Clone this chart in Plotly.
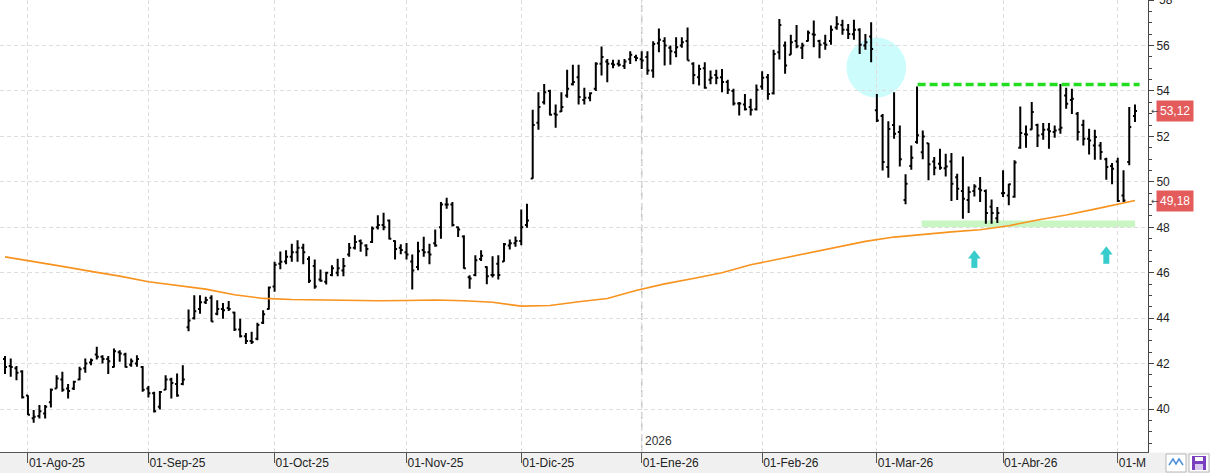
import pandas as pd
import plotly.graph_objects as go

# ---------------- data ----------------
holidays = ["2025-12-25", "2025-12-26", "2026-01-01", "2026-04-03", "2026-04-06", "2026-05-01"]
dates = [d.strftime("%Y-%m-%d") for d in pd.bdate_range("2025-07-28", "2026-05-07")
         if d.strftime("%Y-%m-%d") not in holidays]

open_ = [42.20, 41.90, 41.80, 41.65, 40.60, 39.60, 39.70, 39.80, 40.30, 40.90,
         41.30, 40.90, 40.90, 41.30, 41.80, 42.05, 42.40, 42.30, 42.20, 41.85,
         42.50, 42.40, 41.95, 42.00, 41.85, 40.90, 40.70, 40.10, 40.85, 41.30,
         41.10, 41.10, 43.60, 44.00, 44.40, 44.70, 44.90, 44.20, 44.40, 44.45,
         44.25, 43.50, 43.20, 43.00, 43.10, 43.80, 44.40, 45.40, 46.40, 46.50,
         46.70, 46.90, 47.10, 46.60, 46.30, 45.70, 45.60, 45.90, 46.00, 46.10,
         46.80, 47.10, 47.40, 47.20, 47.35, 48.00, 48.10, 48.30, 47.40, 47.10,
         46.90, 46.50, 46.25, 47.00, 46.90, 47.30, 48.00, 49.00, 49.00, 48.00,
         47.60, 45.80, 45.90, 46.60, 46.25, 45.90, 46.40, 46.50, 47.20, 47.30,
         47.40, 48.10, 50.15, 52.60, 53.50, 54.00, 53.00, 53.10, 53.80, 54.30,
         54.60, 53.60, 53.70, 54.10, 55.20, 55.30, 55.20, 55.20, 55.10, 55.40,
         55.50, 55.40, 55.50, 54.90, 56.10, 56.20, 55.90, 55.70, 56.00, 56.20,
         55.20, 54.60, 55.00, 54.50, 54.70, 54.60, 54.40, 54.00, 53.45, 53.40,
         53.30, 53.20, 54.20, 54.60, 53.90, 55.70, 56.00, 55.60, 56.20, 55.90,
         56.20, 56.50, 56.20, 56.10, 56.20, 56.80, 56.90, 56.70, 56.50, 56.70,
         56.00, 56.40, 53.15, 52.90, 50.65, 52.50, 52.20, 49.20, 50.70, 51.75,
         51.30, 51.70, 50.90, 50.80, 50.60, 50.90, 50.20, 49.60, 49.20, 49.60,
         49.70, 49.60, 48.90, 48.40, 49.50, 49.40, 49.35, 51.50, 52.10, 52.30,
         52.50, 52.10, 52.30, 52.20, 52.30, 53.80, 53.60, 53.00, 52.50, 51.90,
         51.60, 51.60, 51.00, 50.70, 50.90, 49.40, 50.87, 52.90]

high = [42.33, 42.23, 41.89, 41.71, 40.61, 39.96, 40.18, 40.18, 40.90, 41.49,
        41.64, 41.10, 41.25, 41.86, 42.23, 42.23, 42.74, 42.37, 42.33, 42.67,
        42.59, 42.48, 42.23, 42.37, 41.89, 41.01, 40.76, 40.79, 41.49, 41.38,
        41.57, 41.93, 44.38, 45.01, 45.01, 44.94, 45.01, 44.79, 44.67, 44.76,
        44.28, 43.98, 43.35, 43.40, 43.80, 44.35, 45.40, 46.48, 46.94, 46.99,
        47.28, 47.43, 47.28, 46.73, 46.58, 46.14, 46.04, 46.33, 46.62, 46.65,
        47.31, 47.65, 47.46, 47.25, 48.04, 48.53, 48.64, 48.34, 47.43, 47.25,
        47.31, 46.80, 47.36, 47.58, 47.28, 47.90, 49.11, 49.30, 49.11, 48.04,
        47.65, 45.89, 46.77, 46.99, 46.29, 46.73, 46.77, 47.31, 47.46, 47.60,
        48.78, 49.04, 53.17, 53.95, 54.31, 54.05, 53.40, 53.95, 54.93, 55.16,
        55.16, 54.14, 53.95, 55.27, 55.96, 55.41, 55.37, 55.37, 55.41, 55.75,
        55.60, 55.75, 55.75, 56.19, 56.75, 56.37, 56.00, 56.37, 56.37, 56.80,
        55.27, 55.16, 55.27, 54.90, 54.93, 54.97, 54.49, 54.10, 53.51, 53.87,
        53.66, 54.29, 54.87, 54.75, 55.81, 57.17, 56.18, 56.47, 56.91, 56.12,
        56.66, 57.10, 56.26, 56.47, 56.88, 57.29, 57.14, 56.95, 57.14, 56.76,
        56.51, 57.03, 53.87, 52.99, 52.67, 53.95, 52.48, 50.33, 51.60, 54.20,
        52.26, 51.71, 51.09, 51.46, 51.24, 51.27, 50.36, 51.12, 49.80, 49.89,
        50.21, 49.66, 49.22, 48.89, 50.51, 49.92, 50.95, 53.32, 52.48, 53.51,
        52.56, 52.59, 52.59, 52.48, 54.31, 54.14, 54.10, 53.07, 52.73, 52.34,
        52.29, 51.75, 51.06, 50.83, 51.06, 50.51, 53.29, 53.41]

low = [41.54, 41.42, 41.27, 40.47, 39.74, 39.40, 39.59, 39.59, 40.07, 40.90,
       40.76, 40.47, 40.84, 41.27, 41.60, 41.93, 42.18, 42.01, 41.54, 41.83,
       42.08, 41.83, 41.86, 41.86, 40.76, 40.51, 39.85, 39.98, 40.84, 40.47,
       40.54, 41.05, 43.43, 43.94, 44.20, 44.62, 43.84, 44.13, 43.98, 44.32,
       43.44, 43.15, 42.86, 42.86, 43.03, 43.74, 44.38, 45.16, 46.15, 46.37,
       46.48, 46.48, 46.37, 45.55, 45.30, 45.60, 45.48, 45.85, 45.85, 45.85,
       46.70, 47.02, 46.92, 46.73, 47.31, 47.90, 47.87, 47.46, 46.58, 46.81,
       46.58, 45.26, 46.11, 46.70, 46.37, 47.14, 47.50, 48.82, 48.04, 47.57,
       46.18, 45.30, 45.85, 46.52, 45.49, 45.79, 45.70, 46.48, 47.02, 47.14,
       47.21, 47.98, 50.14, 52.29, 53.40, 52.92, 52.38, 53.07, 53.70, 54.24,
       53.40, 53.40, 53.55, 54.00, 54.68, 54.39, 55.00, 55.08, 54.97, 55.19,
       55.31, 54.97, 54.72, 54.58, 55.70, 55.12, 55.16, 55.49, 55.90, 55.34,
       54.30, 54.24, 54.10, 54.30, 54.30, 53.95, 53.87, 53.36, 52.92, 53.14,
       52.92, 53.14, 54.05, 53.61, 53.85, 55.39, 54.76, 55.59, 55.88, 55.41,
       56.18, 55.93, 55.44, 55.82, 56.03, 56.70, 56.47, 56.29, 56.26, 55.63,
       55.82, 55.27, 52.63, 50.50, 50.18, 51.90, 50.68, 49.01, 50.53, 51.68,
       51.00, 50.07, 50.29, 50.53, 50.24, 49.16, 49.20, 48.38, 48.63, 49.36,
       49.11, 48.16, 48.16, 48.19, 49.33, 48.97, 49.30, 51.46, 51.50, 52.29,
       51.53, 51.85, 51.46, 51.94, 52.12, 53.22, 52.99, 51.82, 51.60, 51.21,
       50.97, 50.97, 50.09, 49.89, 49.11, 49.11, 50.73, 52.63]

close = [41.85, 41.85, 41.60, 40.52, 39.75, 39.66, 39.90, 40.10, 40.85, 41.35,
         40.85, 40.80, 41.20, 41.75, 42.00, 42.15, 42.30, 42.20, 42.10, 42.55,
         42.45, 41.85, 42.10, 42.20, 40.85, 40.70, 39.90, 40.75, 41.30, 41.15,
         40.60, 41.30, 43.90, 44.30, 44.70, 44.80, 43.85, 44.40, 44.35, 44.40,
         43.50, 43.20, 43.00, 42.95, 43.70, 44.17, 45.35, 46.35, 46.48, 46.70,
         46.90, 47.10, 46.90, 45.65, 45.40, 45.65, 46.00, 46.20, 46.20, 46.30,
         47.10, 47.35, 47.30, 47.05, 47.95, 48.10, 48.00, 47.50, 47.05, 47.00,
         46.80, 46.10, 46.95, 46.90, 46.80, 47.20, 49.00, 49.00, 48.10, 47.90,
         46.20, 45.75, 46.55, 46.75, 45.85, 45.90, 45.90, 47.25, 47.30, 47.40,
         48.00, 48.30, 52.50, 53.30, 53.95, 52.95, 52.95, 53.30, 54.10, 54.40,
         53.73, 53.70, 53.90, 55.20, 55.50, 55.20, 55.15, 55.15, 55.30, 55.60,
         55.45, 55.34, 54.90, 56.07, 56.25, 56.00, 55.75, 55.93, 56.14, 55.34,
         54.70, 54.97, 54.14, 54.58, 54.58, 54.40, 54.05, 53.45, 53.45, 53.20,
         53.17, 54.05, 54.58, 53.87, 55.63, 56.90, 55.12, 56.15, 55.97, 56.00,
         56.56, 56.47, 56.03, 56.03, 56.70, 56.95, 56.70, 56.51, 56.70, 56.03,
         56.15, 55.85, 52.70, 50.87, 52.33, 52.12, 51.00, 49.92, 51.06, 52.05,
         52.00, 50.77, 50.62, 50.62, 50.68, 49.92, 49.70, 49.26, 49.55, 49.80,
         49.63, 48.63, 48.63, 48.63, 49.51, 49.89, 50.85, 52.15, 52.09, 53.07,
         52.04, 52.29, 52.23, 52.26, 52.38, 53.44, 53.66, 52.19, 51.90, 51.82,
         51.97, 51.31, 50.65, 50.58, 49.16, 49.18, 52.41, 53.12]

# moving average read at these bar positions
ma_index = [0, 5, 10, 15, 20, 25, 30, 35, 40, 45, 50, 55, 60, 65, 70, 75, 80, 85, 90, 95,
            100, 105, 110, 115, 120, 125, 130, 135, 140, 145, 150, 155, 160, 165, 170, 175,
            180, 185, 190, 195, 197]
ma_values = [46.70, 46.50, 46.28, 46.06, 45.85, 45.60, 45.45, 45.28, 45.03, 44.87,
             44.82, 44.80, 44.79, 44.77, 44.78, 44.80, 44.77, 44.70, 44.53, 44.56,
             44.72, 44.87, 45.22, 45.51, 45.75, 46.00, 46.35, 46.60, 46.87, 47.13,
             47.38, 47.57, 47.70, 47.80, 47.89, 48.07, 48.32, 48.54, 48.80, 49.07, 49.18]

month_abbr = {1: "Ene", 2: "Feb", 3: "Mar", 4: "Abr", 5: "M", 8: "Ago", 9: "Sep",
              10: "Oct", 11: "Nov", 12: "Dic"}

# annotation levels
resistance_level = 54.29
resistance_span = (159.1, 197.8)
support_band = (48.00, 48.30)
support_span = (159.8, 197.0)
highlight = dict(center=151.9, price=55.03, rx=5.2, ry=1.32)
arrow_bars = [169, 192]
arrow_head_price = [46.75, 46.92]
arrow_stem_price = [46.46, 46.64]
y_top_label = 58

assert len(dates) == len(open_) == len(high) == len(low) == len(close)

# ---------------- ticks ----------------
tick_vals, tick_text = [], []
seen = set()
for d in dates:
    ym = d[:7]
    if ym not in seen:
        seen.add(ym)
        y, m = int(d[:4]), int(d[5:7])
        if (y, m) == (2025, 7):
            continue
        lab = "01-%s" % month_abbr[m] if m == 5 else "01-%s-%s" % (month_abbr[m], str(y)[2:])
        tick_vals.append(d)
        tick_text.append(lab)

W, H = 1210, 473
PL, PR = 0, 1148          # plot area pixel edges (x)
PT, PB = 0, 452           # plot area pixel edges (y)
n = len(dates)
px_per_bar = 5.736
x0_range = -5.0 / px_per_bar
x1_range = x0_range + (PR - PL) / px_per_bar

fig = go.Figure()

fig.add_trace(go.Ohlc(
    x=dates, open=open_, high=high, low=low, close=close,
    increasing=dict(line=dict(color="#000000", width=2)),
    decreasing=dict(line=dict(color="#000000", width=2)),
    tickwidth=0.35, hoverinfo="skip", showlegend=False))

fig.add_trace(go.Scatter(
    x=[dates[i] for i in ma_index], y=ma_values, mode="lines",
    line=dict(color="#f7931e", width=1.6), hoverinfo="skip", showlegend=False))

# cyan up arrows (stem + head)
fig.add_trace(go.Scatter(
    x=[dates[i] for i in arrow_bars], y=arrow_stem_price, mode="markers",
    marker=dict(symbol="line-ns", size=8, line=dict(color="#38cccc", width=6)),
    hoverinfo="skip", showlegend=False))
fig.add_trace(go.Scatter(
    x=[dates[i] for i in arrow_bars], y=arrow_head_price, mode="markers",
    marker=dict(symbol="triangle-up", size=11, color="#38cccc", line=dict(width=0)),
    hoverinfo="skip", showlegend=False))

def px2paper_x(px):
    return (px - PL) / (PR - PL)

def px2paper_y(py):
    return (PB - py) / (PB - PT)

shapes = []
# bottom grey band
shapes.append(dict(type="rect", xref="paper", yref="paper", x0=px2paper_x(0), x1=px2paper_x(W),
                   y0=px2paper_y(PB + 0.5), y1=px2paper_y(H), fillcolor="#f0f0f0",
                   line=dict(width=0), layer="below"))
# highlight circle
shapes.append(dict(type="circle", xref="x", yref="y",
                   x0=highlight["center"] - highlight["rx"], x1=highlight["center"] + highlight["rx"],
                   y0=highlight["price"] - highlight["ry"], y1=highlight["price"] + highlight["ry"],
                   fillcolor="#ccfcfc", line=dict(width=0), layer="below"))
# support band
shapes.append(dict(type="rect", xref="x", yref="y", x0=support_span[0], x1=support_span[1],
                   y0=support_band[0], y1=support_band[1], fillcolor="#c9f7c4",
                   line=dict(width=0), layer="below"))
# resistance dashed line
shapes.append(dict(type="line", xref="x", yref="y", x0=resistance_span[0], x1=resistance_span[1],
                   y0=resistance_level, y1=resistance_level,
                   line=dict(color="#22dd22", width=3.5, dash="8px,4px"), layer="above"))
# year separator
jan_idx = dates.index(tick_vals[tick_text.index("01-Ene-26")])
shapes.append(dict(type="line", xref="x", yref="paper", x0=jan_idx, x1=jan_idx, y0=0, y1=1,
                   line=dict(color="#c4c4c4", width=1.5, dash="7px,4px"), layer="below"))
# cover for clipped last label area + buttons
shapes.append(dict(type="rect", xref="paper", yref="paper", x0=px2paper_x(1146), x1=px2paper_x(W),
                   y0=px2paper_y(PB + 1), y1=px2paper_y(H), fillcolor="#f0f0f0",
                   line=dict(width=0), layer="above"))
shapes.append(dict(type="rect", xref="paper", yref="paper", x0=px2paper_x(1166), x1=px2paper_x(1186),
                   y0=px2paper_y(454), y1=px2paper_y(472), fillcolor="#ffffff",
                   line=dict(color="#b8b8b8", width=1), layer="above"))
shapes.append(dict(type="path", xref="paper", yref="paper",
                   path="M %f,%f L %f,%f L %f,%f L %f,%f L %f,%f" % (
                       px2paper_x(1169), px2paper_y(465), px2paper_x(1173), px2paper_y(459),
                       px2paper_x(1176), px2paper_y(464), px2paper_x(1179), px2paper_y(459),
                       px2paper_x(1183), px2paper_y(465)),
                   line=dict(color="#4a90d9", width=1.5), layer="above"))
shapes.append(dict(type="rect", xref="paper", yref="paper", x0=px2paper_x(1189), x1=px2paper_x(1209),
                   y0=px2paper_y(454), y1=px2paper_y(472), fillcolor="#ffffff",
                   line=dict(color="#b8b8b8", width=1), layer="above"))
shapes.append(dict(type="rect", xref="paper", yref="paper", x0=px2paper_x(1192), x1=px2paper_x(1206),
                   y0=px2paper_y(456), y1=px2paper_y(470), fillcolor="#7a3fbf",
                   line=dict(width=0), layer="above"))
shapes.append(dict(type="rect", xref="paper", yref="paper", x0=px2paper_x(1195), x1=px2paper_x(1203),
                   y0=px2paper_y(457), y1=px2paper_y(461), fillcolor="#ffffff",
                   line=dict(width=0), layer="above"))
shapes.append(dict(type="rect", xref="paper", yref="paper", x0=px2paper_x(1195), x1=px2paper_x(1203),
                   y0=px2paper_y(464), y1=px2paper_y(470), fillcolor="#d9c8f0",
                   line=dict(width=0), layer="above"))

annotations = []
annotations.append(dict(x=jan_idx, xref="x", y=px2paper_y(441), yref="paper", text="2026",
                        showarrow=False, xanchor="left", yanchor="middle", xshift=1,
                        font=dict(size=12, color="#333333", family="Liberation Sans")))
# partially visible top tick label
annotations.append(dict(x=px2paper_x(1157), xref="paper", y=y_top_label, yref="y",
                        text=str(y_top_label), showarrow=False, xanchor="left", yanchor="middle",
                        font=dict(size=12, color="#222222", family="Liberation Sans")))
ma_last = ma_values[-1]
for val in (close[-1], ma_last):
    annotations.append(dict(x=px2paper_x(1156), xref="paper", y=val, yref="y",
                            text=("%.2f" % val).replace(".", ","), showarrow=False,
                            xanchor="left", yanchor="middle", bgcolor="#e35b5b", borderpad=3,
                            font=dict(size=12, color="#ffffff", family="Liberation Sans")))
    annotations.append(dict(x=px2paper_x(1149), xref="paper", y=val, yref="y", text="←",
                            showarrow=False, xanchor="left", yanchor="middle",
                            font=dict(size=9, color="#444444", family="DejaVu Sans")))

fig.update_layout(
    width=W, height=H,
    margin=dict(l=PL, r=W - PR, t=PT, b=H - PB, pad=0),
    paper_bgcolor="#ffffff", plot_bgcolor="#ffffff",
    showlegend=False,
    font=dict(family="Liberation Sans", size=12, color="#222222"),
    shapes=shapes, annotations=annotations,
    xaxis=dict(type="category", range=[x0_range, x1_range], tickmode="array",
               tickvals=tick_vals, ticktext=tick_text, ticks="outside", ticklen=10,
               tickcolor="#555555", tickwidth=1, showline=True, linecolor="#555555",
               linewidth=1, showgrid=True, gridcolor="#dddddd", griddash="4px,3px",
               gridwidth=1, ticklabelposition="outside right",
               tickfont=dict(size=12, color="#222222"),
               rangeslider=dict(visible=False), fixedrange=True),
    yaxis=dict(side="right", range=[38.11, 58.005], dtick=2, tick0=0, ticks="outside",
               ticklen=5, tickcolor="#444444", showline=True, linecolor="#444444",
               linewidth=1, showgrid=True, gridcolor="#dddddd", griddash="4px,3px",
               zeroline=False, tickfont=dict(size=12, color="#222222"),
               minor=dict(dtick=0.5, tick0=0, ticks="outside", ticklen=3,
                          tickcolor="#444444", showgrid=False),
               fixedrange=True),
)

fig.write_html("out.html")
